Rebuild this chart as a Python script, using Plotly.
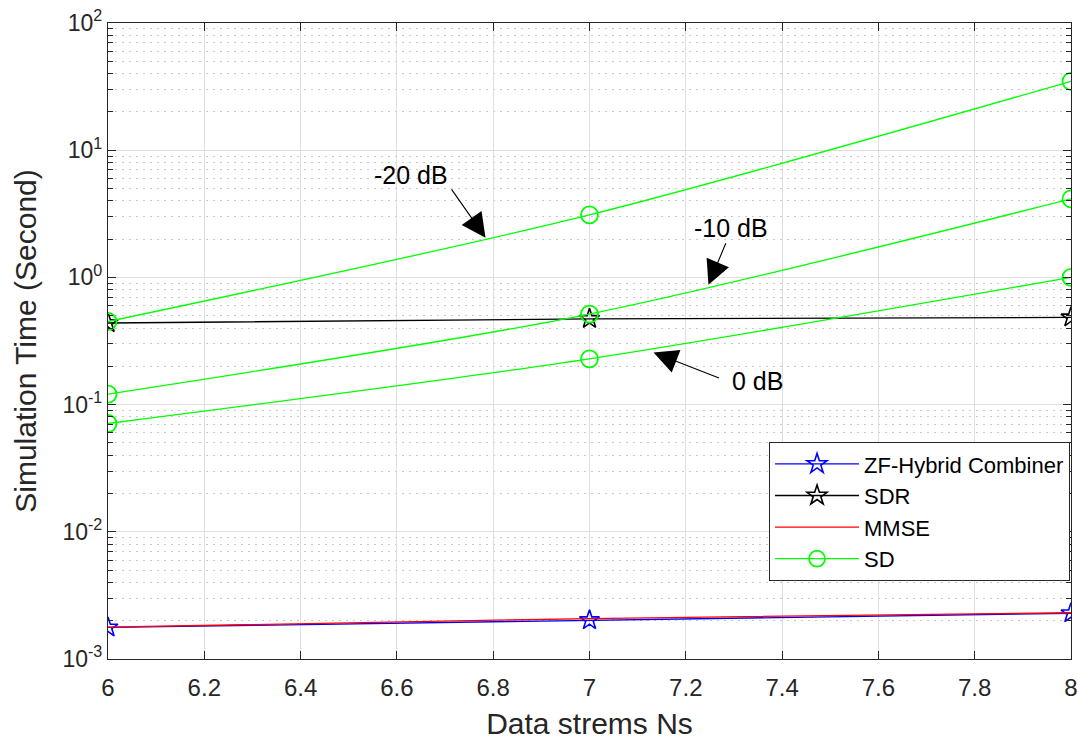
import numpy as np
import plotly.graph_objects as go

# Number of data streams
ns = [6, 7, 8]

# Simulation time (seconds) per method
zf_hybrid = [0.00177, 0.00202, 0.00229]
sdr = [0.438, 0.472, 0.485]
mmse = [0.00178, 0.00208, 0.00231]
sd_m20db = [0.45, 3.1, 34.8]
sd_m10db = [0.121, 0.515, 4.14]
sd_0db = [0.071, 0.229, 1.0]

x_tick_vals = [6, 6.2, 6.4, 6.6, 6.8, 7, 7.2, 7.4, 7.6, 7.8, 8]
x_tick_text = ["6", "6.2", "6.4", "6.6", "6.8", "7", "7.2", "7.4", "7.6", "7.8", "8"]
y_tick_vals = [1e-3, 1e-2, 1e-1, 1e0, 1e1, 1e2]
y_tick_text = ["10<sup>-3</sup>", "10<sup>-2</sup>", "10<sup>-1</sup>",
               "10<sup>0</sup>", "10<sup>1</sup>", "10<sup>2</sup>"]
y_minor_vals = [m * 10.0 ** e for e in range(-3, 2) for m in range(2, 10)]

FONT = "Liberation Sans, Arial, sans-serif"
AXIS_COLOR = "#262626"
LW = 1.3

fig = go.Figure()

fig.add_trace(go.Scatter(
    x=ns, y=zf_hybrid, name="ZF-Hybrid Combiner",
    mode="lines+markers",
    line=dict(color="#0000ff", width=LW),
    marker=dict(symbol="star-open", size=15, color="#0000ff", line=dict(width=1.6)),
))
fig.add_trace(go.Scatter(
    x=ns, y=sdr, name="SDR",
    mode="lines+markers",
    line=dict(color="#000000", width=LW),
    marker=dict(symbol="star-open", size=15, color="#000000", line=dict(width=1.6)),
))
fig.add_trace(go.Scatter(
    x=ns, y=mmse, name="MMSE",
    mode="lines",
    line=dict(color="#ff0000", width=LW),
))
for i, series in enumerate([sd_m20db, sd_m10db, sd_0db]):
    fig.add_trace(go.Scatter(
        x=ns, y=series, name="SD", showlegend=(i == 0),
        mode="lines+markers",
        line=dict(color="#00ff00", width=LW, shape="spline", smoothing=0.8),
        marker=dict(symbol="circle-open", size=17, color="#00ff00", line=dict(width=1.8)),
    ))

# SNR labels with pointer arrows
labels = [
    # text, text x, text log-y, arrow tip x, tip log-y, tail offset (px)
    ("-20 dB", 6.629, 0.809, 6.784, 0.311, -35, -50),
    ("-10 dB", 7.293, 0.390, 7.247, -0.058, 18, -43),
    ("0 dB", 7.349, -0.811, 7.133, -0.591, 67, 26),
]
for text, tx, ty, hx, hy, ax, ay in labels:
    fig.add_annotation(x=tx, y=ty, text=text, showarrow=False,
                       font=dict(family=FONT, size=25, color="#000000"))
    fig.add_annotation(x=hx, y=hy, text="", showarrow=True, ax=ax, ay=ay,
                       arrowhead=2, arrowsize=4.4, arrowwidth=1.1,
                       arrowcolor="#000000", standoff=0, startstandoff=0)

fig.update_layout(
    width=1078, height=740,
    margin=dict(l=108, r=7, t=23, b=81, autoexpand=False),
    paper_bgcolor="#ffffff", plot_bgcolor="#ffffff",
    font=dict(family=FONT, size=24, color=AXIS_COLOR),
    showlegend=True,
    legend=dict(
        x=0.999, y=0.341, xanchor="right", yanchor="top",
        bgcolor="#ffffff", bordercolor="#262626", borderwidth=1,
        font=dict(family=FONT, size=22, color="#000000"),
        itemwidth=84,
    ),
)

fig.update_xaxes(
    range=[6, 8], tickmode="array", tickvals=x_tick_vals, ticktext=x_tick_text,
    showline=True, linecolor=AXIS_COLOR, linewidth=1.2, mirror="ticks",
    ticks="inside", ticklen=8, tickcolor=AXIS_COLOR, tickwidth=1.2,
    showgrid=True, gridcolor="#dfdfdf", gridwidth=1,
    zeroline=False, ticklabeloverflow="allow", ticklabelstandoff=7,
    automargin=False,
    tickfont=dict(family=FONT, size=24, color=AXIS_COLOR),
    title=dict(text="Data strems Ns", font=dict(family=FONT, size=30, color=AXIS_COLOR), standoff=14),
)

fig.update_yaxes(
    type="log", range=[-3, 2],
    tickmode="array", tickvals=y_tick_vals, ticktext=y_tick_text,
    showline=True, linecolor=AXIS_COLOR, linewidth=1.2, mirror="ticks",
    ticks="inside", ticklen=8, tickcolor=AXIS_COLOR, tickwidth=1.2,
    showgrid=True, gridcolor="#dfdfdf", gridwidth=1,
    zeroline=False, automargin=False,
    minor=dict(tickmode="array", tickvals=y_minor_vals,
               ticks="inside", ticklen=5, tickcolor=AXIS_COLOR, tickwidth=1.2,
               showgrid=True, gridcolor="#c8c8c8", griddash="2px,5px", gridwidth=1),
    tickfont=dict(family=FONT, size=23, color=AXIS_COLOR),
    title=dict(text="Simulation Time (Second)", font=dict(family=FONT, size=30, color=AXIS_COLOR), standoff=16),
)

fig.write_html("out.html")
